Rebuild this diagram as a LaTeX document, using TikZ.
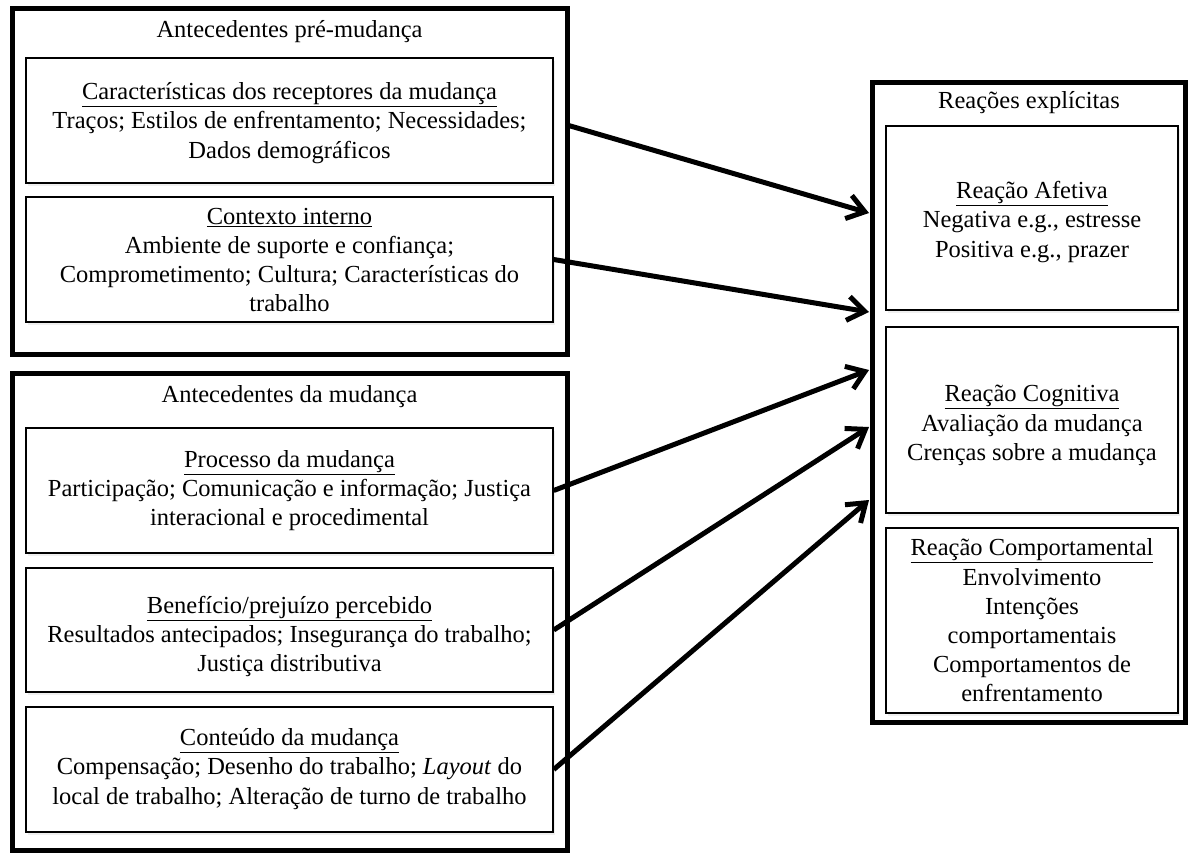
\documentclass[tikz,border=0pt]{standalone}
\usepackage{fontspec}
\setmainfont{Liberation Serif}
\usetikzlibrary{arrows.meta,shadows}
\begin{document}
\begin{tikzpicture}[x=1pt,y=-1pt,
  txt/.style={align=center, inner sep=0pt, font=\fontsize{24.5pt}{29.2pt}\selectfont},
  outbox/.style={draw=black, fill=white, line width=5pt, inner sep=0pt,
    drop shadow={shadow xshift=2pt, shadow yshift=-3pt, opacity=0.12}},
  inbox/.style={draw=black, fill=white, line width=1.4pt, inner sep=0pt,
    drop shadow={shadow xshift=2pt, shadow yshift=-3pt, opacity=0.12}},
  conn/.style={line width=5pt, -{Straight Barb[length=17pt,width=24pt,line width=5pt]}}
]
\useasboundingbox (0,0) rectangle (1191,854);

% outer boxes
\node[outbox, minimum width=555pt, minimum height=346pt] (outer1) at (289.5,181) {};
\node[outbox, minimum width=555pt, minimum height=477pt] (outer2) at (289.5,611.5) {};
\node[outbox, minimum width=313pt, minimum height=640pt] (outerR) at (1028.5,402) {};

% inner boxes
\node[inbox, minimum width=527pt, minimum height=125pt] (inner1) at (289.5,120.5) {};
\node[inbox, minimum width=527pt, minimum height=125pt] (inner2) at (289.5,259.5) {};
\node[inbox, minimum width=527pt, minimum height=125pt] (proc) at (289.5,490.5) {};
\node[inbox, minimum width=527pt, minimum height=124pt] (benef) at (289.5,630) {};
\node[inbox, minimum width=527pt, minimum height=125pt] (cont) at (289.5,769.5) {};
\node[inbox, minimum width=292pt, minimum height=184pt] (afet) at (1032,218) {};
\node[inbox, minimum width=292pt, minimum height=186pt] (cogn) at (1032,420) {};
\node[inbox, minimum width=292pt, minimum height=185pt] (comp) at (1032,620.5) {};

% texts
\node[txt] (title1) at (289.5,32) {Antecedentes pré-mudança};
\node[txt] (tinner1) at (289.5,123) {\underline{Características dos receptores da mudança}\\Traços; Estilos de enfrentamento; Necessidades;\\Dados demográficos};
\node[txt] (tinner2) at (289.5,260) {\underline{Contexto interno}\\Ambiente de suporte e confiança;\\Comprometimento; Cultura; Características do\\trabalho};
\node[txt] (title2) at (289.5,397) {Antecedentes da mudança};
\node[txt] (tproc) at (289.5,490.5) {\underline{Processo da mudança}\\Participação; Comunicação e informação; Justiça\\interacional e procedimental};
\node[txt] (tbenef) at (289.5,636.5) {\underline{Benefício/prejuízo percebido}\\Resultados antecipados; Insegurança do trabalho;\\Justiça distributiva};
\node[txt] (tcont) at (289.5,769) {\underline{Conteúdo da mudança}\\Compensação; Desenho do trabalho; \textit{Layout} do\\local de trabalho; Alteração de turno de trabalho};
\node[txt] (titleR) at (1029,103) {Reações explícitas};
\node[txt] (tafet) at (1032,222) {\underline{Reação Afetiva}\\Negativa e.g., estresse\\Positiva e.g., prazer};
\node[txt] (tcogn) at (1032,425.5) {\underline{Reação Cognitiva}\\Avaliação da mudança\\Crenças sobre a mudança};
\node[txt] (tcomp) at (1032,620.5) {\underline{Reação Comportamental}\\Envolvimento\\Intenções\\comportamentais\\Comportamentos de\\enfrentamento};

% connector end points
\coordinate (s1) at (567,125);
\coordinate (e1) at (869,213);
\coordinate (e2) at (869,312);
\coordinate (e3) at (869,370);
\coordinate (e4) at (869,427);
\coordinate (e5) at (869,500);

\draw[conn] (s1) -- (e1);
\draw[conn] (inner2.east) -- (e2);
\draw[conn] (proc.east) -- (e3);
\draw[conn] (benef.east) -- (e4);
\draw[conn] (cont.east) -- (e5);
\end{tikzpicture}
\end{document}
